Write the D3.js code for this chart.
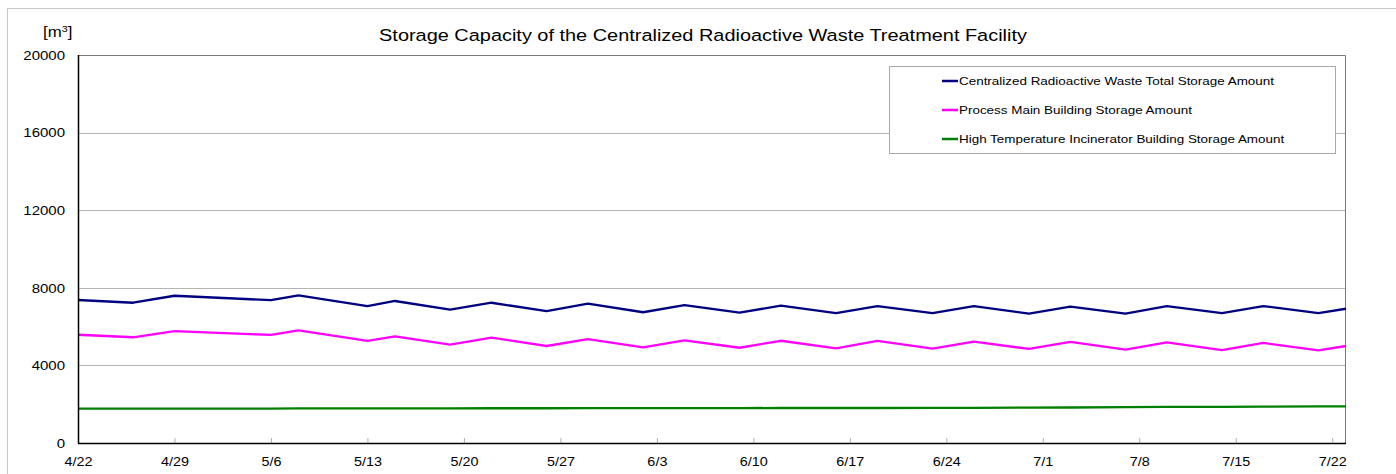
<!DOCTYPE html>
<html>
<head>
<meta charset="utf-8">
<script src="https://cdn.jsdelivr.net/npm/d3@7"></script>
<style>
  body { margin: 0; background: #fff; }
  text { font-family: "Liberation Sans", Arial, sans-serif; fill: #000; }
</style>
</head>
<body>
<svg id="chart" width="1396" height="474"></svg>
<script>
// dates of the readings (year is not shown on the chart)
var dates = ["4/22","4/26","4/29","5/6","5/8","5/13","5/15","5/19","5/22","5/26","5/29",
             "6/2","6/5","6/9","6/12","6/16","6/19","6/23","6/26","6/30","7/3",
             "7/7","7/10","7/14","7/17","7/21","7/23"];

var totalStorage = [7370,7230,7590,7360,7610,7060,7320,6870,7230,6800,7180,
                    6740,7110,6720,7080,6700,7060,6690,7050,6670,7030,
                    6670,7050,6690,7060,6690,6920];

var processMain = [5580,5450,5770,5570,5810,5270,5500,5070,5430,5000,5360,
                   4930,5290,4910,5270,4880,5260,4860,5220,4850,5210,
                   4810,5190,4790,5160,4780,5000];

var incinerator = [1770,1770,1775,1775,1780,1780,1785,1785,1790,1790,1795,
                   1800,1800,1800,1805,1805,1805,1810,1815,1820,1830,
                   1845,1860,1865,1875,1885,1890];

var seriesNames = ["Centralized Radioactive Waste Total Storage Amount",
                   "Process Main Building Storage Amount",
                   "High Temperature Incinerator Building Storage Amount"];
var seriesColors = ["#000080", "#ff00ff", "#008000"];

var xTickLabels = ["4/22","4/29","5/6","5/13","5/20","5/27","6/3","6/10","6/17","6/24","7/1","7/8","7/15","7/22"];
var yTicks = [0, 4000, 8000, 12000, 16000, 20000];

var SX = 1.2; // text in the original is drawn a bit wide

var parse = function(s) { return d3.utcParse("%Y/%m/%d")("2021/" + s); };

var margin = {top: 55, right: 50, bottom: 31, left: 78},
    W = 1396, H = 474,
    width = W - margin.left - margin.right,
    height = H - margin.top - margin.bottom;

var svg = d3.select("#chart");

// outer frame
svg.append("rect")
    .attr("x", 7.5).attr("y", 8.5)
    .attr("width", 1400).attr("height", 500)
    .attr("fill", "none").attr("stroke", "#c8c8c8");

var g = svg.append("g")
    .attr("transform", "translate(" + margin.left + "," + margin.top + ")");

var x = d3.scaleUtc()
    .domain([parse("4/22"), parse("7/23")])
    .range([0, width]);

var y = d3.scaleLinear()
    .domain([0, 20000])
    .range([height, 0]);

// grid lines
g.append("g")
    .selectAll("line")
    .data(yTicks.filter(function(d) { return d > 0 && d < 20000; }))
    .enter().append("line")
    .attr("x1", 0).attr("x2", width)
    .attr("y1", function(d) { return Math.round(y(d)) + 0.5; })
    .attr("y2", function(d) { return Math.round(y(d)) + 0.5; })
    .attr("stroke", "#b4b4b4");

// top and right border
g.append("path")
    .attr("d", "M0," + 0.5 + "H" + (width - 0.5) + "V" + height)
    .attr("fill", "none").attr("stroke", "#7a7a7a");

// x axis ticks (small, pointing up)
var xAxis = g.append("g")
    .attr("transform", "translate(0," + height + ")")
    .call(d3.axisBottom(x)
        .tickValues(xTickLabels.map(parse))
        .tickSize(0)
        .tickPadding(0)
        .tickFormat(""));
xAxis.select(".domain").remove();
xAxis.selectAll(".tick line").remove();
xAxis.selectAll(".tick").append("line")
    .attr("y1", 0).attr("y2", -5)
    .attr("stroke", "#b0b0b0");
xAxis.selectAll(".tick").append("text")
    .attr("transform", "translate(0,23) scale(" + SX + ",1)")
    .attr("text-anchor", "middle")
    .style("font-size", "12px")
    .text(function(d, i) { return xTickLabels[i]; });

// y axis labels
var yAxis = g.append("g")
    .call(d3.axisLeft(y).tickValues(yTicks).tickSize(0).tickFormat(""));
yAxis.select(".domain").remove();
yAxis.selectAll(".tick").append("text")
    .attr("transform", "translate(-13,0) scale(" + SX + ",1)")
    .attr("text-anchor", "end")
    .attr("dy", "0.35em")
    .style("font-size", "12.5px")
    .text(function(d) { return d; });

// lines
var allSeries = [totalStorage, processMain, incinerator];
var line = d3.line()
    .x(function(d, i) { return x(parse(dates[i])); })
    .y(function(d) { return y(d); });

g.append("clipPath").attr("id", "clip")
    .append("rect").attr("width", width).attr("height", height);

g.selectAll(".series")
    .data(allSeries)
    .enter().append("path")
    .attr("class", "series")
    .attr("clip-path", "url(#clip)")
    .attr("d", line)
    .attr("fill", "none")
    .attr("stroke", function(d, i) { return seriesColors[i]; })
    .attr("stroke-width", 2.3)
    .attr("stroke-linejoin", "round");

// axis lines (left and bottom in black)
g.append("path")
    .attr("d", "M0.5,0V" + (height + 0.5) + "H" + width)
    .attr("fill", "none").attr("stroke", "#000").attr("stroke-width", 1.5);

// legend
var legend = svg.append("g").attr("transform", "translate(889,66)");
legend.append("rect")
    .attr("x", 0.5).attr("y", 0.5)
    .attr("width", 446).attr("height", 87)
    .attr("fill", "#fff").attr("stroke", "#a8a8a8");
var items = legend.selectAll(".item")
    .data(seriesNames)
    .enter().append("g")
    .attr("transform", function(d, i) { return "translate(53," + (15 + i * 29) + ")"; });
items.append("line")
    .attr("x1", 0).attr("x2", 16)
    .attr("stroke", function(d, i) { return seriesColors[i]; })
    .attr("stroke-width", 2.5);
items.append("text")
    .attr("transform", "translate(17,0) scale(" + SX + ",1)")
    .attr("dy", "0.35em")
    .style("font-size", "11.2px")
    .text(function(d) { return d; });

// title and unit
svg.append("text")
    .attr("transform", "translate(703,41) scale(" + SX + ",1)")
    .attr("text-anchor", "middle")
    .style("font-size", "16.6px")
    .text("Storage Capacity of the Centralized Radioactive Waste Treatment Facility");

var unit = svg.append("text")
    .attr("transform", "translate(43,37) scale(" + SX + ",1)")
    .style("font-size", "14px");
unit.append("tspan").text("[m");
unit.append("tspan").attr("dy", -5).style("font-size", "9px").text("3");
unit.append("tspan").attr("dy", 5).text("]");
</script>
</body>
</html>
